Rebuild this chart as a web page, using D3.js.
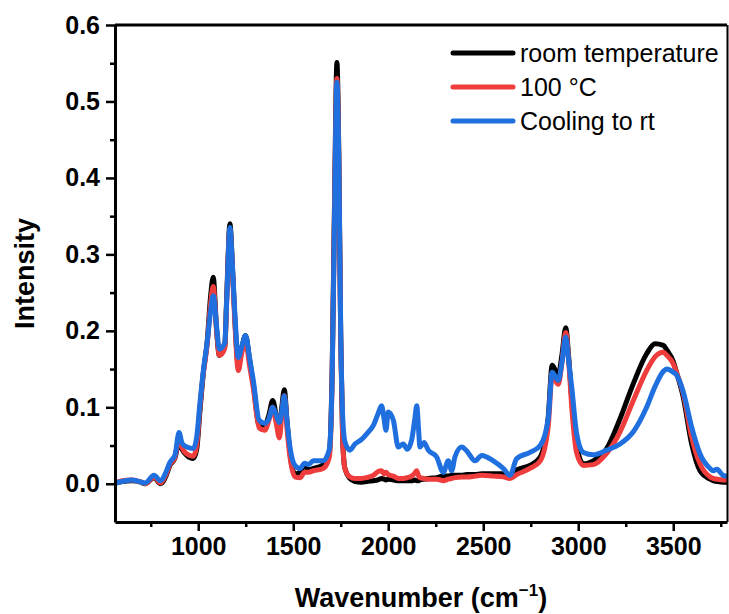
<!DOCTYPE html>
<html>
<head>
<meta charset="utf-8">
<script src="https://cdn.jsdelivr.net/npm/d3@7"></script>
<style>
  body { margin: 0; background: #fff; }
  svg { display: block; }
  .axis text { font-family: "Liberation Sans", Arial, sans-serif; font-weight: bold; font-size: 25px; fill: #000; }
  .axis path, .axis line { stroke: #000; }
</style>
</head>
<body>
<div id="chart"></div>
<script>
// wavenumbers (cm-1) shared by all three spectra
const wavenumbers = [565, 600, 650, 700, 720, 767, 802, 830, 851, 878, 899, 915, 940, 974, 992,
  1009, 1027, 1047, 1065, 1079, 1097, 1111, 1125, 1140, 1150, 1167, 1180, 1193, 1211, 1230,
  1249, 1270, 1290, 1321, 1351, 1372, 1392, 1410, 1427, 1440, 1453, 1468, 1483, 1509, 1536,
  1560, 1580, 1606, 1658, 1690, 1705, 1718, 1730, 1740, 1750, 1760, 1772, 1798, 1825, 1860,
  1886, 1921, 1947, 1965, 1978, 1988, 2000, 2027, 2053, 2079, 2100, 2123, 2140, 2150, 2160,
  2167, 2188, 2211, 2255, 2290, 2316, 2334, 2351, 2387, 2413, 2457, 2492, 2553, 2606, 2641,
  2676, 2746, 2800, 2842, 2863, 2880, 2895, 2915, 2934, 2950, 2966, 2992, 3027, 3079, 3150,
  3220, 3290, 3360, 3404, 3448, 3466, 3500, 3518, 3553, 3597, 3641, 3694, 3710, 3730, 3762, 3780];

const roomTemp = [0.001, 0.003, 0.004, 0.002, 0.0, 0.008, 0.0, 0.01, 0.024, 0.034, 0.055, 0.045, 0.037, 0.033, 0.045,
  0.095, 0.145, 0.185, 0.245, 0.27, 0.2, 0.168, 0.172, 0.18, 0.245, 0.34, 0.285, 0.215, 0.155, 0.178,
  0.194, 0.163, 0.13, 0.077, 0.077, 0.09, 0.109, 0.09, 0.072, 0.1, 0.123, 0.08, 0.04, 0.013, 0.015,
  0.025, 0.018, 0.02, 0.025, 0.04, 0.15, 0.38, 0.551, 0.43, 0.19, 0.06, 0.02, 0.007, 0.003, 0.002,
  0.003, 0.004, 0.005, 0.007, 0.006, 0.005, 0.006, 0.005, 0.004, 0.004, 0.004, 0.004, 0.005, 0.004, 0.004,
  0.005, 0.006, 0.007, 0.008, 0.01, 0.01, 0.011, 0.011, 0.011, 0.012, 0.012, 0.013, 0.013, 0.013, 0.012,
  0.018, 0.024, 0.035, 0.087, 0.155, 0.148, 0.142, 0.17, 0.204, 0.165, 0.11, 0.05, 0.026, 0.03, 0.046,
  0.085, 0.131, 0.17, 0.183, 0.181, 0.175, 0.16, 0.145, 0.113, 0.052, 0.017, 0.006, 0.004, 0.003, 0.002, 0.002];

const heated = [0.001, 0.004, 0.005, 0.002, 0.0, 0.009, 0.001, 0.012, 0.025, 0.035, 0.06, 0.047, 0.039, 0.036, 0.05,
  0.1, 0.145, 0.182, 0.235, 0.258, 0.2, 0.168, 0.17, 0.178, 0.24, 0.333, 0.28, 0.21, 0.148, 0.172,
  0.185, 0.155, 0.125, 0.073, 0.07, 0.083, 0.1, 0.08, 0.06, 0.09, 0.115, 0.07, 0.035, 0.009, 0.008,
  0.015, 0.015, 0.017, 0.02, 0.035, 0.14, 0.37, 0.53, 0.42, 0.19, 0.06, 0.02, 0.009, 0.007, 0.007,
  0.008, 0.011, 0.016, 0.017, 0.013, 0.015, 0.012, 0.01, 0.007, 0.007, 0.008, 0.01, 0.014, 0.017, 0.01,
  0.008, 0.007, 0.006, 0.006, 0.004, 0.006, 0.007, 0.008, 0.009, 0.009, 0.01, 0.011, 0.01, 0.009, 0.007,
  0.012, 0.02, 0.03, 0.075, 0.145, 0.135, 0.13, 0.16, 0.198, 0.16, 0.1, 0.04, 0.024, 0.025, 0.04,
  0.068, 0.109, 0.148, 0.166, 0.172, 0.168, 0.157, 0.145, 0.118, 0.061, 0.026, 0.009, 0.007, 0.006, 0.005, 0.005];

const cooled = [0.001, 0.003, 0.005, 0.002, 0.001, 0.011, 0.004, 0.015, 0.028, 0.038, 0.067, 0.053, 0.048, 0.046, 0.061,
  0.105, 0.148, 0.185, 0.225, 0.246, 0.205, 0.176, 0.178, 0.185, 0.24, 0.335, 0.285, 0.222, 0.165, 0.18,
  0.194, 0.165, 0.135, 0.083, 0.079, 0.085, 0.1, 0.09, 0.08, 0.095, 0.115, 0.08, 0.048, 0.024, 0.02,
  0.027, 0.025, 0.03, 0.03, 0.045, 0.14, 0.36, 0.525, 0.42, 0.2, 0.09, 0.055, 0.044, 0.052, 0.058,
  0.065, 0.076, 0.092, 0.102, 0.085, 0.07, 0.094, 0.083, 0.048, 0.052, 0.045, 0.057, 0.085, 0.102, 0.07,
  0.048, 0.054, 0.044, 0.035, 0.015, 0.03, 0.017, 0.035, 0.048, 0.043, 0.03, 0.037, 0.03, 0.02, 0.011,
  0.033, 0.041, 0.05, 0.085, 0.146, 0.14, 0.135, 0.16, 0.192, 0.16, 0.126, 0.065, 0.041, 0.038, 0.044,
  0.052, 0.068, 0.1, 0.127, 0.147, 0.15, 0.146, 0.142, 0.12, 0.074, 0.039, 0.02, 0.017, 0.019, 0.011, 0.01];

const seriesNames = ["room temperature", "100 \u00b0C", "Cooling to rt"];
const seriesColors = ["#000000", "#ef3d3d", "#1f6fdf"];
const xMajorTicks = [1000, 1500, 2000, 2500, 3000, 3500];
const xMinorTicks = [750, 1250, 1750, 2250, 2750, 3250, 3750];
const yMajorTicks = [0, 0.1, 0.2, 0.3, 0.4, 0.5, 0.6];
const yMinorTicks = [0.05, 0.15, 0.25, 0.35, 0.45, 0.55];

const width = 729;
const height = 614;
const margin = { top: 25, right: 2, bottom: 92, left: 115 };

const svg = d3.select("#chart")
  .append("svg")
  .attr("width", width)
  .attr("height", height);

const x = d3.scaleLinear()
  .domain([562, 3783])
  .range([margin.left, width - margin.right]);

const y = d3.scaleLinear()
  .domain([-0.05, 0.6])
  .range([height - margin.bottom, margin.top]);

svg.append("clipPath")
  .attr("id", "plot-clip")
  .append("rect")
  .attr("x", margin.left)
  .attr("y", margin.top)
  .attr("width", width - margin.left - margin.right)
  .attr("height", height - margin.top - margin.bottom);

// spectra
const line = d3.line()
  .x((d, i) => x(wavenumbers[i]))
  .y((d) => y(d))
  .curve(d3.curveMonotoneX);

const spectra = [roomTemp, heated, cooled];
svg.append("g")
  .attr("clip-path", "url(#plot-clip)")
  .selectAll("path")
  .data(spectra)
  .join("path")
  .attr("fill", "none")
  .attr("stroke", (d, i) => seriesColors[i])
  .attr("stroke-width", 5)
  .attr("stroke-linejoin", "round")
  .attr("stroke-linecap", "round")
  .attr("d", line);

// frame top and right
svg.append("line")
  .attr("x1", margin.left).attr("x2", width - margin.right)
  .attr("y1", margin.top).attr("y2", margin.top)
  .attr("stroke", "#000").attr("stroke-width", 3);
svg.append("line")
  .attr("x1", width - margin.right + 0.5).attr("x2", width - margin.right + 0.5)
  .attr("y1", margin.top).attr("y2", height - margin.bottom)
  .attr("stroke", "#000").attr("stroke-width", 2);

// x axis
const xAxisMinor = svg.append("g")
  .attr("class", "axis")
  .attr("transform", `translate(0,${height - margin.bottom})`)
  .call(d3.axisBottom(x).tickValues(xMinorTicks).tickSize(5).tickFormat(""));
xAxisMinor.select(".domain").remove();
xAxisMinor.selectAll("line").attr("stroke-width", 2.5);

const xAxis = svg.append("g")
  .attr("class", "axis")
  .attr("transform", `translate(0,${height - margin.bottom})`)
  .call(d3.axisBottom(x).tickValues(xMajorTicks).tickSize(9).tickSizeOuter(0).tickPadding(6).tickFormat(d3.format("d")));
xAxis.select(".domain").attr("stroke-width", 3);
xAxis.selectAll("line").attr("stroke-width", 2.5);

// y axis
const yAxisMinor = svg.append("g")
  .attr("class", "axis")
  .attr("transform", `translate(${margin.left},0)`)
  .call(d3.axisLeft(y).tickValues(yMinorTicks).tickSize(5).tickFormat(""));
yAxisMinor.select(".domain").remove();
yAxisMinor.selectAll("line").attr("stroke-width", 2.5);

const yAxis = svg.append("g")
  .attr("class", "axis")
  .attr("transform", `translate(${margin.left},0)`)
  .call(d3.axisLeft(y).tickValues(yMajorTicks).tickSize(9).tickSizeOuter(0).tickPadding(6).tickFormat(d3.format(".1f")));
yAxis.select(".domain").attr("stroke-width", 3);
yAxis.selectAll("line").attr("stroke-width", 2.5);

// axis titles
const xTitle = svg.append("text")
  .attr("x", (margin.left + width - margin.right) / 2)
  .attr("y", 607)
  .attr("text-anchor", "middle")
  .style("font-family", "'Liberation Sans', Arial, sans-serif")
  .style("font-weight", "bold")
  .style("font-size", "27px");
xTitle.append("tspan").text("Wavenumber (cm");
xTitle.append("tspan").attr("dy", -11).style("font-size", "17px").text("\u22121");
xTitle.append("tspan").attr("dy", 11).text(")");

svg.append("text")
  .attr("transform", `translate(34,${(margin.top + height - margin.bottom) / 2}) rotate(-90)`)
  .attr("text-anchor", "middle")
  .style("font-family", "'Liberation Sans', Arial, sans-serif")
  .style("font-weight", "bold")
  .style("font-size", "27px")
  .text("Intensity");

// legend
const legend = svg.append("g")
  .selectAll("g")
  .data(seriesNames)
  .join("g")
  .attr("transform", (d, i) => `translate(453,${53 + i * 34})`);

legend.append("line")
  .attr("x1", 0).attr("x2", 60)
  .attr("stroke", (d, i) => seriesColors[i])
  .attr("stroke-width", 5)
  .attr("stroke-linecap", "round");

legend.append("text")
  .attr("x", 67)
  .attr("y", 9)
  .style("font-family", "'Liberation Sans', Arial, sans-serif")
  .style("font-size", "25px")
  .text((d) => d);
</script>
</body>
</html>
